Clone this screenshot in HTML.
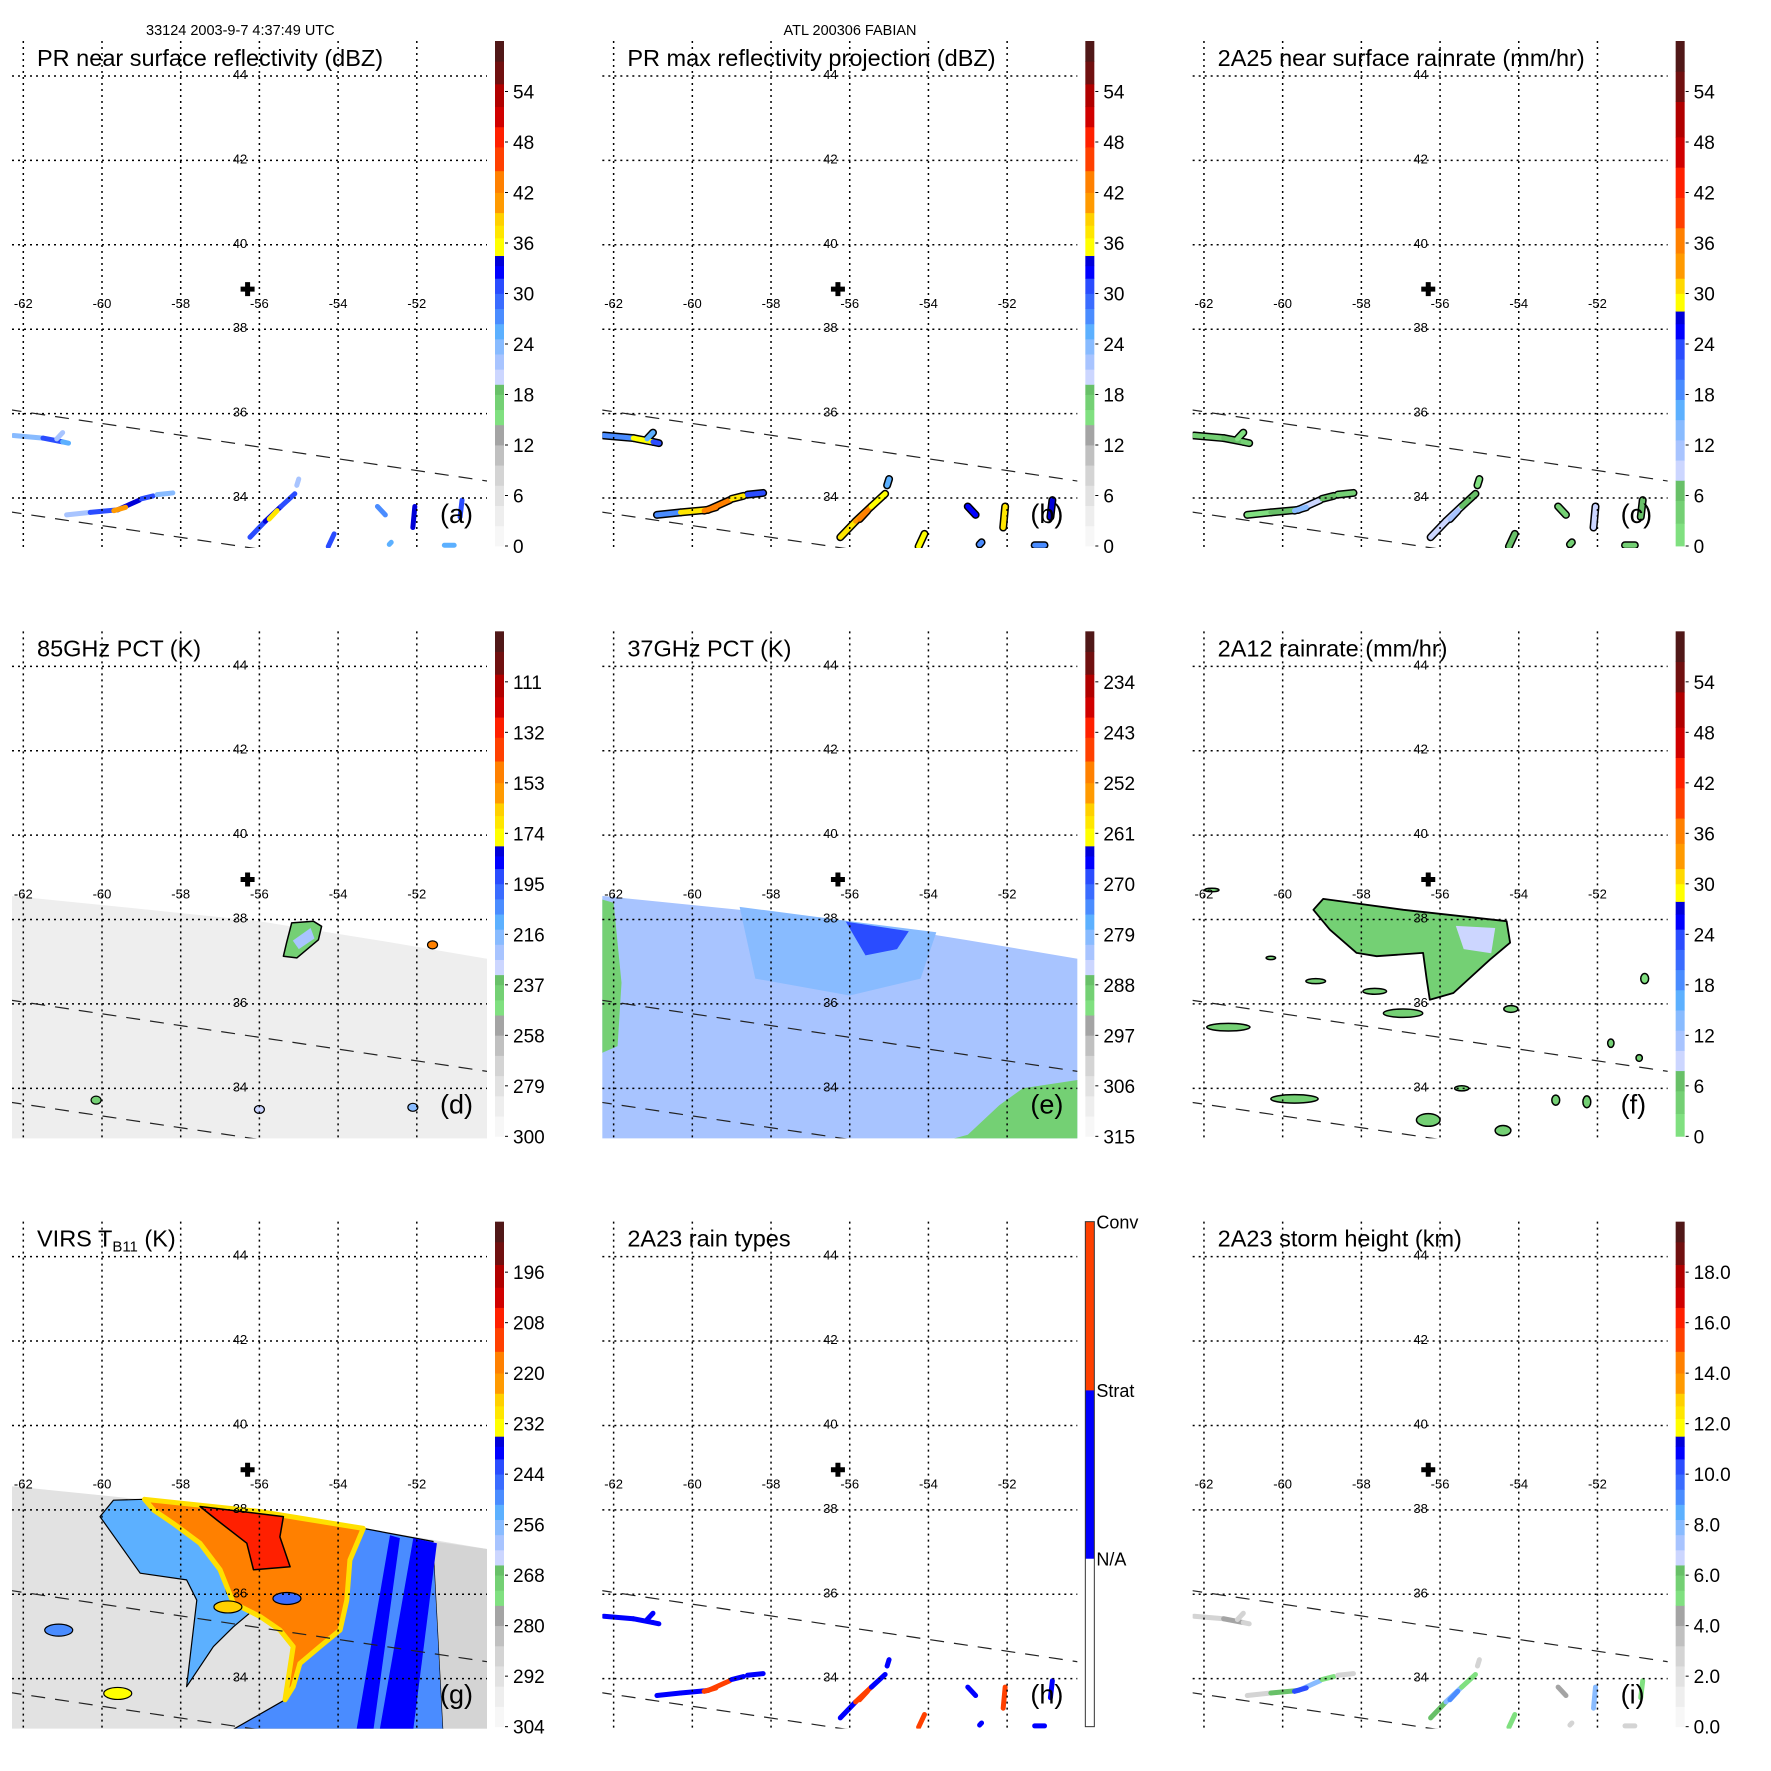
<!DOCTYPE html>
<html><head><meta charset="utf-8">
<style>
html,body{margin:0;padding:0;background:#fff;}
svg{display:block;font-family:"Liberation Sans",sans-serif;}
</style></head>
<body>
<svg id="fig" xmlns="http://www.w3.org/2000/svg" width="1771" height="1771" viewBox="0 0 1771 1771">
<rect x="0" y="0" width="1771" height="1771" fill="#fff"/>
<text x="146" y="35" font-size="14.5">33124 2003-9-7 4:37:49 UTC</text>
<text x="850" y="35" font-size="14.5" text-anchor="middle">ATL 200306 FABIAN</text>
</svg>
<script>
// ---------- data arrays ----------
const lonTicks = [-62,-60,-58,-56,-54,-52];
const latTicks = [44,42,40,38,36,34];
const stormCenter = [-56.3, 38.95];
const prSwathUpper = [[-62.4,36.1],[-50.2,34.4]];
const prSwathLower = [[-62.4,33.68],[-50.2,31.98]];
const tmiSwathTop = [[-62.4,38.57],[-59,38.25],[-56,37.96],[-53,37.51],[-50.2,37.07]];

// PR streak segments [lon1,lat1,lon2,lat2]
const prSegs = [
 [-62.25,35.48,-61.5,35.42],[-61.5,35.42,-61.0,35.33],[-61.15,35.4,-61.0,35.55],[-61.0,35.33,-60.85,35.3],
 [-60.9,33.6,-60.3,33.66],[-60.3,33.66,-59.6,33.72],[-59.6,33.72,-59.05,33.95],[-59.0,33.98,-58.7,34.05],[-58.6,34.08,-58.2,34.12],
 [-56.24,33.07,-55.85,33.45],[-55.85,33.45,-55.45,33.8],[-55.45,33.8,-55.1,34.1],[-55.05,34.3,-55.0,34.45],
 [-54.25,32.85,-54.1,33.15],[-53.0,33.8,-52.8,33.6],[-52.1,33.3,-52.05,33.8],[-50.9,33.55,-50.85,33.95],
 [-51.3,32.88,-51.05,32.88],[-52.7,32.9,-52.65,32.95],[-59.7,33.7,-59.4,33.78],[-55.75,33.5,-55.55,33.7]
];
const aVals = [24,30,22,26,22,30,34,30,24,30,34,30,22,30,28,34,30,25,25,40,38];
const bVals = [28,36,26,30,28,38,42,38,30,38,40,36,26,36,32,38,34,28,28,44,42];
const cVals = [3,6,2,3,2,6,10,6,3,8,10,6,2,6,4,8,6,3,3,14,12];
const hVals = [1,1,1,1,1,1,2,1,1,1,2,1,1,2,1,2,1,1,1,2,2];
const iVals = [3,4,3,3,3,6,8,5,3,6,8,5,3,5,4,8,5,3,3,10,9];

// TMI/VIRS region values (brightness temps, K)
const dSwathT = 289, eSwathT = 282, gSwathT = 290;
const dBlob = [[-54.63,37.96],[-54.42,37.84],[-54.5,37.52],[-55.05,37.09],[-55.39,37.13],[-55.31,37.45],[-55.18,37.92]];
const dBlobT = 238;
const dBlobInner = [[-54.7,37.8],[-54.6,37.55],[-55.0,37.3],[-55.15,37.5]];
const dBlobInnerT = 222;
const dSpots = [[-60.15,33.72,240],[-56.0,33.5,230],[-52.1,33.55,220],[-51.6,37.4,150]];
const eMidBand = [[-58.8,38.3],[-56,37.96],[-53.8,37.7],[-54.2,36.6],[-56,36.2],[-58.4,36.6]];
const eMidT = 279;
const eCore = [[-56.1,37.95],[-54.5,37.72],[-54.8,37.3],[-55.6,37.15]];
const eCoreT = 268;
const eGreenLeft = [[-62.4,38.5],[-62.0,38.4],[-61.8,36.5],[-61.9,35.0],[-62.4,34.8]];
const eGreenRight = [[-53.0,32.9],[-52.2,33.6],[-51.6,34.0],[-50.2,34.2],[-50.2,32.8],[-53.4,32.8]];
const eGreenT = 289;
const gBlueLeft = [[-58.95,38.25],[-59.71,38.23],[-60.05,37.84],[-59.03,36.5],[-57.85,36.34],[-57.59,35.86],[-57.85,33.81],[-57.17,34.76],[-56.66,35.23],[-56.15,35.63],[-56.83,36.02],[-57.0,36.81],[-57.59,37.29],[-58.69,38.0]];
const gBlueLeftT = 252;
const gBlueRight = [[-53.36,37.56],[-51.58,37.25],[-51.33,32.8],[-56.66,32.8],[-55.35,33.5],[-54.97,34.36],[-53.95,35.15],[-53.78,35.86],[-53.7,36.81]];
const gBlueRightT = 249;
const gGrayRight = [[-51.58,37.25],[-50.2,37.07],[-50.2,32.8],[-51.33,32.8]];
const gGrayRightT = 288;
const gStripA = [[-52.09,37.33],[-51.49,37.21],[-52.09,32.8],[-52.94,32.8]];
const gStripB = [[-52.68,37.4],[-52.43,37.33],[-53.1,32.8],[-53.53,32.8]];
const gStripT = 240;
const gOrange = [[-58.92,38.25],[-56,37.96],[-53.36,37.56],[-53.7,36.81],[-53.78,35.86],[-53.95,35.15],[-54.46,34.76],[-54.97,34.36],[-55.14,33.81],[-55.35,33.5],[-55.14,34.76],[-55.48,35.15],[-55.98,35.47],[-56.66,35.79],[-57.0,36.58],[-57.51,37.21],[-58.19,37.68],[-58.69,38.0]];
const gOrangeT = 216;
const gRed = [[-57.51,38.08],[-55.39,37.84],[-55.48,37.36],[-55.22,36.65],[-56.15,36.58],[-56.32,37.21],[-57.08,37.76]];
const gRedT = 205;
const gSmall = [[-61.1,35.15,250],[-59.6,33.65,235],[-56.8,35.7,225],[-55.3,35.9,245]];
const fMain = [[-58.97,38.49],[-56.93,38.23],[-54.31,37.96],[-54.22,37.45],[-54.73,37.05],[-55.66,36.26],[-56.26,36.1],[-56.34,36.58],[-56.43,37.21],[-57.61,37.13],[-58.12,37.21],[-58.8,37.76],[-59.22,38.23]];
const fMainVal = 3;
const fInner = [[-55.6,37.85],[-54.6,37.8],[-54.7,37.2],[-55.4,37.3]];
const fInnerVal = 10;
// small rain cells [lon,lat,rLon,rLat,rateMmHr]
const fCells = [
 [-61.38,35.45,0.55,0.09,3],[-59.7,33.75,0.6,0.1,4],[-56.94,35.78,0.5,0.1,3],[-57.66,36.3,0.3,0.07,3],
 [-59.16,36.54,0.25,0.06,3],[-56.3,33.25,0.3,0.15,3],[-55.45,34.0,0.18,0.06,3],[-54.4,33.0,0.2,0.12,5],
 [-51.66,35.07,0.08,0.1,3],[-50.94,34.72,0.08,0.08,3],[-52.27,33.68,0.1,0.14,4],[-53.06,33.72,0.1,0.12,3],
 [-50.8,36.6,0.1,0.12,2],[-54.2,35.88,0.18,0.08,3],[-60.3,37.09,0.12,0.04,2],[-61.8,38.7,0.18,0.04,2]
];
const tickA = ["0","6","12","18","24","30","36","42","48","54"];
const tickD = ["300","279","258","237","216","195","174","153","132","111"];
const tickE = ["315","306","297","288","279","270","261","252","243","234"];
const tickG = ["304","292","280","268","256","244","232","220","208","196"];
const tickI = ["0.0","2.0","4.0","6.0","8.0","10.0","12.0","14.0","16.0","18.0"];
const tickH = ["N/A","Strat","Conv"];

// ---------- styles ----------
const palA = [
 [0,0.04,"#f7f7f7"],[0.04,0.08,"#eeeeee"],[0.08,0.12,"#e2e2e2"],[0.12,0.16,"#d4d4d4"],[0.16,0.2,"#c0c0c0"],[0.2,0.24,"#a4a4a4"],
 [0.24,0.27,"#80e080"],[0.27,0.3,"#74d074"],[0.3,0.32,"#68c068"],
 [0.32,0.35,"#ccd6ff"],[0.35,0.38,"#a8c4ff"],[0.38,0.41,"#88bbff"],[0.41,0.44,"#5cb0ff"],[0.44,0.47,"#4a8cff"],[0.47,0.5,"#3a6cff"],[0.5,0.53,"#2a4cff"],[0.53,0.555,"#0000ff"],[0.555,0.575,"#0000d8"],
 [0.575,0.61,"#ffff00"],[0.61,0.635,"#ffe600"],[0.635,0.66,"#ffd000"],
 [0.66,0.7,"#ff9a00"],[0.7,0.743,"#ff8000"],[0.743,0.79,"#ff4000"],[0.79,0.83,"#ff2000"],
 [0.83,0.87,"#d00000"],[0.87,0.915,"#b00000"],[0.915,0.96,"#701010"],[0.96,1,"#501818"]];
const palC = [
 [0,0.045,"#80e080"],[0.045,0.09,"#74d074"],[0.09,0.13,"#68c068"],
 [0.13,0.17,"#ccd6ff"],[0.17,0.21,"#a8c4ff"],[0.21,0.25,"#88bbff"],[0.25,0.29,"#5cb0ff"],[0.29,0.33,"#4a8cff"],[0.33,0.37,"#3a6cff"],[0.37,0.41,"#2a4cff"],[0.41,0.44,"#0000ff"],[0.44,0.465,"#0000d8"],
 [0.465,0.5,"#ffff00"],[0.5,0.53,"#ffd800"],[0.53,0.58,"#ff9a00"],[0.58,0.63,"#ff8000"],
 [0.63,0.69,"#ff4000"],[0.69,0.75,"#ff2000"],[0.75,0.81,"#d00000"],[0.81,0.88,"#b00000"],[0.88,0.94,"#701010"],[0.94,1,"#501818"]];
const palH = [[0,1/3,"#ffffff"],[1/3,2/3,"#0000ff"],[2/3,1,"#ff4000"]];

const NS = "http://www.w3.org/2000/svg";
const svg = document.getElementById("fig");
const P = 590.33;
function el(tag, attrs, parent){ const e=document.createElementNS(NS,tag); for(const k in attrs) e.setAttribute(k,attrs[k]); (parent||svg).appendChild(e); return e; }
function colorFor(pal,f){ f=Math.max(0,Math.min(0.9999,f)); for(const s of pal){ if(f>=s[0]&&f<s[1]) return s[2]; } return pal[pal.length-1][2]; }

const panels = [
 {id:"a",title:"PR near surface reflectivity (dBZ)",pal:palA,ticks:tickA,kind:"pr",vals:aVals,f:v=>v/60,outline:false},
 {id:"b",title:"PR max reflectivity projection (dBZ)",pal:palA,ticks:tickA,kind:"pr",vals:bVals,f:v=>v/60,outline:true},
 {id:"c",title:"2A25 near surface rainrate (mm/hr)",pal:palC,ticks:tickA,kind:"pr",vals:cVals,f:v=>v/60,outline:true},
 {id:"d",title:"85GHz PCT (K)",pal:palA,ticks:tickD,kind:"d",f:t=>(300-t)/210},
 {id:"e",title:"37GHz PCT (K)",pal:palA,ticks:tickE,kind:"e",f:t=>(315-t)/90},
 {id:"f",title:"2A12 rainrate (mm/hr)",pal:palC,ticks:tickA,kind:"f",f:v=>v/60},
 {id:"g",title:"VIRS",pal:palA,ticks:tickG,kind:"g",f:t=>(304-t)/120},
 {id:"h",title:"2A23 rain types",pal:palH,ticks:tickH,kind:"pr",vals:hVals,f:v=>v===2?0.8:0.5,outline:false,cat:true},
 {id:"i",title:"2A23 storm height (km)",pal:palA,ticks:tickI,kind:"pr",vals:iVals,f:v=>v/20,outline:false}
];

panels.forEach((p,idx)=>{
  const ox = (idx%3)*P, oy = Math.floor(idx/3)*P;
  const X = lon => ox + 23.3 + (lon+62)*39.35;
  const Y = lat => oy + 76 + (44-lat)*42.2;
  const pts = arr => arr.map(q=>X(q[0]).toFixed(1)+","+Y(q[1]).toFixed(1)).join(" ");
  const g = el("g",{});
  
  
  const cp = el("clipPath",{id:"clip"+p.id},g);
  el("rect",{x:ox+12,y:oy+41,width:475,height:507},cp);
  const map = el("g",{"clip-path":"url(#clip"+p.id+")"},g);
  
  
  const swathPoly = tmiSwathTop.concat([[-50.2,32.6],[-62.4,32.6]]);
  function poly(arr,fill,stroke,sw,name){
    const e = el("polygon",{points:pts(arr),fill:fill,stroke:stroke||"none","stroke-width":sw||0,"stroke-linejoin":"round"},map);
    
    
    return e;
  }
  if(p.kind==="d"){
    poly(swathPoly,colorFor(p.pal,p.f(dSwathT)),null,0,"tmi-swath");
    poly(dBlob,colorFor(p.pal,p.f(dBlobT)),"#000",1.5,"ice-scattering-area");
    poly(dBlobInner,colorFor(p.pal,p.f(dBlobInnerT)),null,0,"ice-scattering-core");
    dSpots.forEach(s=>{ const c=el("ellipse",{cx:X(s[0]),cy:Y(s[1]),rx:5,ry:4,fill:colorFor(p.pal,p.f(s[2])),stroke:"#000","stroke-width":1.2},map);
        });
  } else if(p.kind==="e"){
    poly(swathPoly,colorFor(p.pal,p.f(eSwathT)),null,0,"tmi-swath");
    poly(eMidBand,colorFor(p.pal,p.f(eMidT)),null,0,"emission-band");
    poly(eCore,colorFor(p.pal,p.f(eCoreT)),null,0,"emission-core");
    poly(eGreenLeft,colorFor(p.pal,p.f(eGreenT)),null,0,"warm-area-left");
    poly(eGreenRight,colorFor(p.pal,p.f(eGreenT)),null,0,"warm-area-right");
  } else if(p.kind==="g"){
    poly(swathPoly,colorFor(p.pal,p.f(gSwathT)),null,0,"virs-swath");
    poly(gBlueLeft,colorFor(p.pal,p.f(gBlueLeftT)),"#000",1.2,"cloud-band-left");
    poly(gBlueRight,colorFor(p.pal,p.f(gBlueRightT)),"#000",1.2,"cloud-band-right");
    poly(gGrayRight,colorFor(p.pal,p.f(gGrayRightT)),null,0,"clear-area-right");
    poly(gStripA,colorFor(p.pal,p.f(gStripT)),null,0,"cold-strip-a");
    poly(gStripB,colorFor(p.pal,p.f(gStripT)),null,0,"cold-strip-b");
    poly(gOrange,colorFor(p.pal,p.f(gOrangeT)),"#ffe000",5,"cold-cloud-shield");
    poly(gRed,colorFor(p.pal,p.f(gRedT)),"#000",1.5,"coldest-tops");
    gSmall.forEach(s=>{ const c=el("ellipse",{cx:X(s[0]),cy:Y(s[1]),rx:14,ry:6,fill:colorFor(p.pal,p.f(s[2])),stroke:"#000","stroke-width":1.2},map);
        });
  } else if(p.kind==="f"){
    poly(fMain,colorFor(p.pal,p.f(fMainVal)),"#000",1.8,"rain-area");
    poly(fInner,colorFor(p.pal,p.f(fInnerVal)),null,0,"heavier-rain");
    fCells.forEach(s=>{ const c=el("ellipse",{cx:X(s[0]),cy:Y(s[1]),rx:s[2]*39.35,ry:s[3]*42.2,fill:colorFor(p.pal,p.f(s[4])),stroke:"#000","stroke-width":1.5},map);
        });
  } else {
    if(p.outline){
      prSegs.forEach(s=>{ el("line",{x1:X(s[0]),y1:Y(s[1]),x2:X(s[2]),y2:Y(s[3]),stroke:"#000","stroke-width":8,"stroke-linecap":"round"},map); });
    }
    prSegs.forEach((s,k)=>{
      const ln = el("line",{x1:X(s[0]),y1:Y(s[1]),x2:X(s[2]),y2:Y(s[3]),stroke:colorFor(p.pal,p.f(p.vals[k])),"stroke-width":5,"stroke-linecap":"round"},map);
      
      
    });
  }
  // gridlines
  lonTicks.forEach(lon=>{ const l=el("line",{x1:X(lon),y1:oy+41,x2:X(lon),y2:oy+548,stroke:"#000","stroke-width":1.5,"stroke-dasharray":"2,4"},g);
      });
  latTicks.forEach(lat=>{ const l=el("line",{x1:ox+12,y1:Y(lat),x2:ox+487,y2:Y(lat),stroke:"#000","stroke-width":1.5,"stroke-dasharray":"2,4"},g);
      });
  // PR swath edges
  [prSwathUpper,prSwathLower].forEach(sw=>{
    const l=el("line",{x1:X(sw[0][0]),y1:Y(sw[0][1]),x2:X(sw[1][0]),y2:Y(sw[1][1]),stroke:"#222","stroke-width":1.2,"stroke-dasharray":"14,10","clip-path":"url(#clip"+p.id+")"},g);
     
  });
  // labels
  lonTicks.forEach(lon=>{ const t=el("text",{x:X(lon),y:oy+308,"font-size":13,"text-anchor":"middle"},g); t.textContent=String(lon);
      });
  latTicks.forEach(lat=>{ const t=el("text",{x:ox+240,y:Y(lat)+3,"font-size":13,"text-anchor":"middle"},g); t.textContent=String(lat);
      });
  // storm center cross
  const cx=X(stormCenter[0]), cy=Y(stormCenter[1]);
  const cr = el("path",{d:`M${cx-7},${cy-2.5}h14v5h-14zM${cx-2.5},${cy-7}h5v14h-5z`,fill:"#000"},g);
   
  // title
  const tt = el("text",{x:ox+37,y:oy+66,"font-size":23.5},g);
  
  
  if(p.id==="g"){
    tt.appendChild(document.createTextNode("VIRS T"));
    const sub = el("tspan",{"font-size":15,dy:5},tt); sub.textContent="B11";
    const rest = el("tspan",{dy:-5},tt); rest.textContent=" (K)";
  } else tt.textContent = p.title;
  const pl = el("text",{x:ox+440,y:oy+523,"font-size":27},g);
  pl.textContent = "("+p.id+")";
   
  // colorbar
  const bx=ox+495, bt=oy+41, bh=505, bw=9;
  const cb = el("g",{},g);
   
  p.pal.forEach(s=>{ el("rect",{x:bx,y:bt+(1-s[1])*bh,width:bw,height:(s[1]-s[0])*bh+0.4,fill:s[2]},cb); });
  if(p.cat){
    el("rect",{x:bx,y:bt,width:bw,height:bh,fill:"none",stroke:"#333","stroke-width":1},cb);
    p.ticks.forEach((lab,k)=>{ const y=bt+bh*(1-(k+1)/3); const t=el("text",{x:bx+bw+2,y:y+7,"font-size":18},cb); t.textContent=lab;
        });
  } else {
    p.ticks.forEach((lab,k)=>{ const y=bt+bh*(1-k/10);
      el("line",{x1:bx+bw+1,y1:y,x2:bx+bw+4,y2:y,stroke:"#000","stroke-width":1},cb);
      const t=el("text",{x:bx+bw+9,y:y+7,"font-size":19},cb); t.textContent=lab;
        });
  }
});
</script>
</body></html>
